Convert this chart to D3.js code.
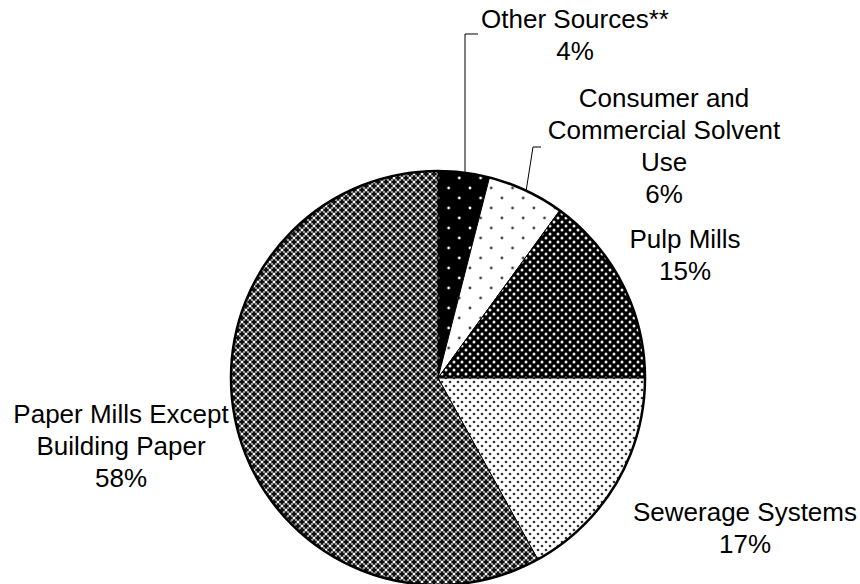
<!DOCTYPE html>
<html><head><meta charset="utf-8">
<script src="https://cdn.jsdelivr.net/npm/d3@7"></script>
<style>body{margin:0;background:#fff}svg{display:block}text{font-family:"Liberation Sans",Arial,sans-serif;font-size:26px;fill:#000}</style>
</head><body><svg id="c" width="860" height="584"></svg>
<script>
const categories = ["Other Sources**", "Consumer and Commercial Solvent Use", "Pulp Mills", "Sewerage Systems", "Paper Mills Except Building Paper"];
const values = [4, 6, 15, 17, 58];
const labelLines = [["Other Sources**","4%"],["Consumer and","Commercial Solvent","Use","6%"],["Pulp Mills","15%"],["Sewerage Systems","17%"],["Paper Mills Except","Building Paper","58%"]];
const patterns = ["pOther","pCons","pPulp","pSew","pPaper"];

const svg = d3.select("#c");
const defs = svg.append("defs");
function dotPat(id, w, h, bg, fg, r, pts){
  const p = defs.append("pattern").attr("id",id).attr("patternUnits","userSpaceOnUse").attr("width",w).attr("height",h);
  p.append("rect").attr("width",w).attr("height",h).attr("fill",bg);
  pts.forEach(([x,y])=>p.append("circle").attr("cx",x).attr("cy",y).attr("r",r).attr("fill",fg));
  return p;
}
dotPat("pOther",21.3,20,"#000","#fff",1.4,[[0,0],[21.3,0],[0,20],[21.3,20],[10.65,10]]);
dotPat("pCons",21.3,20,"#fff","#444",1.4,[[0,0],[21.3,0],[0,20],[21.3,20],[10.65,10]]);
dotPat("pPulp",8,8,"#000","#eee",1.5,[[0,0],[8,0],[0,8],[8,8],[4,4]]);
dotPat("pSew",8,8,"#fff","#333",1.35,[[0,0],[8,0],[0,8],[8,8],[4,4]]);
{
  const p = defs.append("pattern").attr("id","pPaper").attr("patternUnits","userSpaceOnUse").attr("width",8).attr("height",8);
  p.append("rect").attr("width",8).attr("height",8).attr("fill","#9a9a9a");
  const plus=(x,y)=>{p.append("rect").attr("x",x-2.5).attr("y",y-1).attr("width",5).attr("height",2).attr("fill","#111");
    p.append("rect").attr("x",x-1).attr("y",y-2.5).attr("width",2).attr("height",5).attr("fill","#111");};
  [[0,0],[8,0],[0,8],[8,8],[4,4]].forEach(d=>plus(d[0],d[1]));
  [[4,0],[0,4],[8,4],[4,8]].forEach(d=>p.append("rect").attr("x",d[0]-1).attr("y",d[1]-1).attr("width",2).attr("height",2).attr("fill","#fff"));
}

const cx = 438, cy = 378, R = 207;
const pie = d3.pie().sort(null).value(d=>d);
const arc = d3.arc().innerRadius(0).outerRadius(R);
const g = svg.append("g").attr("transform",`translate(${cx},${cy})`);
const arcs = pie(values);
g.selectAll("path").data(arcs).join("path").attr("d",arc)
  .attr("fill",(d,i)=>`url(#${patterns[i]})`).attr("stroke","#000").attr("stroke-width",1);
g.append("circle").attr("r",R).attr("fill","none").attr("stroke","#000").attr("stroke-width",2.5);

const labelPos = [[575,28],[664,107],[685,248],[745,521],[121,423]];
const lh = 32;
labelLines.forEach((lines,i)=>{
  const t = svg.append("text").attr("text-anchor","middle");
  lines.forEach((s,j)=>t.append("tspan").attr("x",labelPos[i][0]).attr("y",labelPos[i][1]+j*lh).text(s));
});

const a1 = arcs[1];
function edge(a){const m=(a.startAngle+a.endAngle)/2;return [cx+R*Math.sin(m), cy-R*Math.cos(m)];}
const e0 = [465, cy - Math.sqrt(R*R-(465-cx)*(465-cx))];
svg.append("polyline").attr("points",[[e0[0],e0[1]],[465,34],[478,34]].map(p=>p.join(",")).join(" "))
  .attr("fill","none").attr("stroke","#000").attr("stroke-width",1);
const e1 = edge(a1);
svg.append("polyline").attr("points",[[e1[0],e1[1]],[533,147],[541,147]].map(p=>p.join(",")).join(" "))
  .attr("fill","none").attr("stroke","#000").attr("stroke-width",1);
</script></body></html>
